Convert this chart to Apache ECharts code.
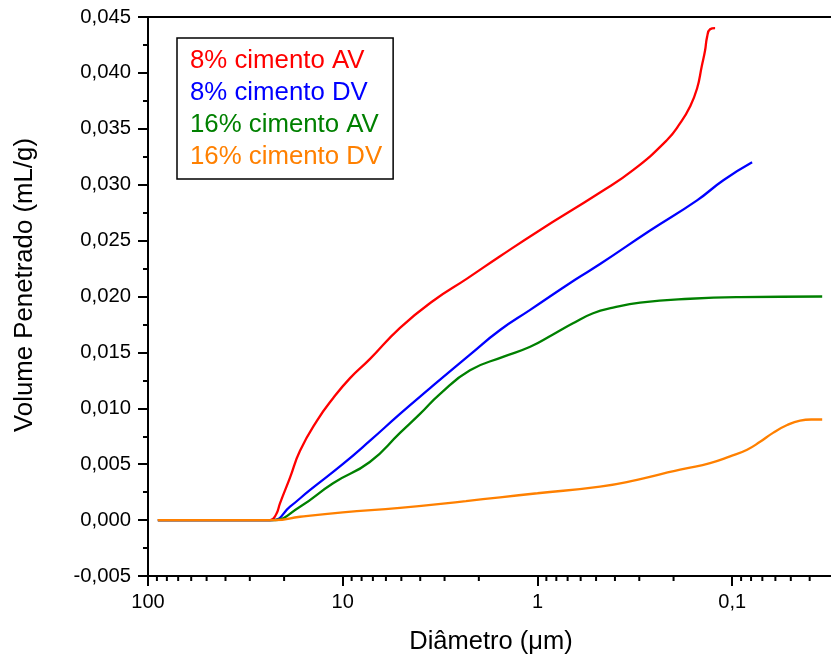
<!DOCTYPE html>
<html>
<head>
<meta charset="utf-8">
<script src="https://cdn.jsdelivr.net/npm/echarts@6/dist/echarts.min.js"></script>
<style>
  html, body { margin: 0; padding: 0; background: #fff; }
  #chart { width: 831px; height: 659px; }
</style>
</head>
<body>
<div id="chart"></div>
<script>
// Cumulative intruded volume (mL/g) versus pore diameter (µm)
const seriesNames = ['8% cimento AV', '8% cimento DV', '16% cimento AV', '16% cimento DV'];
const seriesColors = ['#ff0000', '#0000ff', '#008000', '#ff8000'];

const av8 = [
  [89, 0], [23.6, 0], [22.0, 0.0005], [21.0, 0.0015], [18.65, 0.0038], [16.57, 0.0062],
  [13.55, 0.0089], [11.21, 0.0109], [9.17, 0.0127], [7.26, 0.0144], [5.08, 0.0172],
  [3.44, 0.0196], [2.30, 0.0216], [1.556, 0.0236], [1.0, 0.0258], [0.477, 0.0293],
  [0.323, 0.0313], [0.216, 0.034], [0.185, 0.0355], [0.1645, 0.037], [0.1515, 0.0386],
  [0.1433, 0.0406], [0.1378, 0.042], [0.1346, 0.0432], [0.1299, 0.0439], [0.1224, 0.044]
];
const dv8 = [
  [89, 0], [23.07, 0], [18.65, 0.0012], [14.7, 0.0027], [10, 0.005], [7.24, 0.0071],
  [5.08, 0.0095], [3.56, 0.0118], [2.22, 0.0148], [1.556, 0.017], [1.09, 0.0188],
  [0.641, 0.0215], [0.477, 0.0229], [0.264, 0.0259], [0.1515, 0.0286], [0.111, 0.0304],
  [0.079, 0.032]
];
const av16 = [
  [89, 0], [23.07, 0], [16.57, 0.0012], [11.21, 0.0033], [7.26, 0.0052], [5.08, 0.0078],
  [4.01, 0.0095], [3.16, 0.0113], [2.22, 0.0134], [1.502, 0.0146], [1.09, 0.0155],
  [0.832, 0.0166], [0.657, 0.0176], [0.518, 0.0185], [0.409, 0.019], [0.297, 0.01945],
  [0.1645, 0.0198], [0.091, 0.01995], [0.0345, 0.02]
];
const dv16 = [
  [89, 0], [22.3, 0], [16.57, 0.0003], [10, 0.0007], [5.08, 0.0011], [2.33, 0.0017],
  [1.556, 0.00204], [1.0, 0.0024], [0.477, 0.003], [0.308, 0.0036], [0.2346, 0.0041],
  [0.1746, 0.0046], [0.1299, 0.0051], [0.1025, 0.0057], [0.0838, 0.0063], [0.0719, 0.007],
  [0.0617, 0.0078], [0.0522, 0.0085], [0.0448, 0.0089], [0.0393, 0.009], [0.0345, 0.009]
];
const seriesData = [av8, dv8, av16, dv16];

// Axis ranges and logarithmic minor tick positions
const xMin = 0.03, xMax = 100;
const yMin = -0.005, yMax = 0.045, yStep = 0.005;
const xMinorTicks = [90, 80, 70, 60, 50, 40, 30, 20, 9, 8, 7, 6, 5, 4, 3, 2,
  0.9, 0.8, 0.7, 0.6, 0.5, 0.4, 0.3, 0.2, 0.09, 0.08, 0.07, 0.06, 0.05, 0.04];

const FONT = '"Liberation Sans", Arial, sans-serif';
const chart = echarts.init(document.getElementById('chart'), null, { renderer: 'canvas' });

function fmtX(v) {
  const e = Math.log10(v);
  if (Math.abs(e - Math.round(e)) > 1e-6) return '';
  const r = Math.pow(10, Math.round(e));
  return String(Number(r.toPrecision(6))).replace('.', ',');
}

const lineSeries = seriesNames.map((name, i) => ({
  name: name,
  type: 'line',
  data: seriesData[i],
  showSymbol: false,
  smooth: 0.5,
  lineStyle: { color: seriesColors[i], width: 2.3 },
  itemStyle: { color: seriesColors[i] },
  animation: false,
  z: 3
}));

const minorTickSeries = {
  type: 'custom',
  silent: true,
  clip: false,
  animation: false,
  data: xMinorTicks.map(v => [v, yMin]),
  renderItem: function (params, api) {
    const p = api.coord([api.value(0), api.value(1)]);
    return {
      type: 'line',
      shape: { x1: p[0], y1: p[1], x2: p[0], y2: p[1] + 5 },
      style: { stroke: '#000', lineWidth: 2 }
    };
  },
  z: 5
};

chart.setOption({
  animation: false,
  backgroundColor: '#fff',
  grid: {
    left: 148, top: 17, width: 686, height: 559,
    outerBoundsMode: 'none',
    containLabel: false,
    show: true, borderColor: '#000', borderWidth: 2, backgroundColor: 'transparent'
  },
  legend: {
    orient: 'vertical',
    left: 177, top: 38,
    data: seriesNames.map((n, i) => ({ name: n, textStyle: { color: seriesColors[i] } })),
    icon: 'none',
    itemWidth: 0, itemHeight: 32, itemGap: 0,
    padding: [7, 11, 6, 8],
    borderColor: '#000', borderWidth: 1.5,
    backgroundColor: '#fff',
    selectedMode: false,
    textStyle: { fontFamily: FONT, fontSize: 25.8, lineHeight: 32 }
  },
  xAxis: {
    type: 'log',
    logBase: 10,
    min: xMin, max: xMax,
    inverse: true,
    name: 'Diâmetro (μm)',
    nameLocation: 'middle',
    nameGap: 53,
    nameTextStyle: { fontFamily: FONT, fontSize: 25.5, color: '#000' },
    axisLine: { onZero: false, lineStyle: { color: '#000', width: 2 } },
    axisTick: { show: true, inside: false, length: 10, lineStyle: { color: '#000', width: 2 } },
    minorTick: { show: false },
    splitLine: { show: false },
    axisLabel: {
      formatter: fmtX, margin: 16, color: '#000',
      fontFamily: FONT, fontSize: 20,
      showMinLabel: false, showMaxLabel: true
    }
  },
  yAxis: {
    type: 'value',
    min: yMin, max: yMax, interval: yStep,
    axisLine: { show: true, lineStyle: { color: '#000', width: 2 } },
    axisTick: { show: true, inside: false, length: 10, lineStyle: { color: '#000', width: 2 } },
    minorTick: { show: true, splitNumber: 2, length: 5, lineStyle: { color: '#000', width: 2 } },
    splitLine: { show: false },
    axisLabel: {
      formatter: v => v.toFixed(3).replace('.', ','),
      margin: 17, color: '#000', fontFamily: FONT, fontSize: 20.3
    }
  },
  graphic: [{
    type: 'text',
    x: 25, y: 285,
    rotation: Math.PI / 2,
    style: {
      text: 'Volume Penetrado (mL/g)',
      fontFamily: FONT, fontSize: 25.8, fill: '#000',
      align: 'center', verticalAlign: 'middle'
    }
  }],
  series: lineSeries.concat([minorTickSeries])
});
</script>
</body>
</html>
